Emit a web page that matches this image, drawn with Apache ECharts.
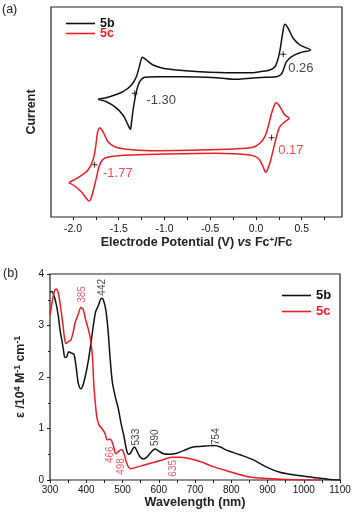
<!DOCTYPE html>
<html>
<head>
<meta charset="utf-8">
<script src="https://cdn.jsdelivr.net/npm/echarts@6/dist/echarts.min.js"></script>
<style>
  html, body { margin: 0; padding: 0; background: #fff; }
  #chart { width: 354px; height: 519px; }
</style>
</head>
<body>
<div id="chart"></div>
<script>
/* ---------------- Data: (a) cyclic voltammetry ---------------- */
// [potential (V vs Fc+/Fc), current (arb.)], traced round the loop
const cv5b = [
  [-1.726, 1.27], [-1.598, 1.53], [-1.453, 2.03], [-1.361, 2.70], [-1.307, 3.53],
  [-1.270, 4.70], [-1.241, 5.47], [-1.197, 5.20], [-1.125, 4.70], [-1.015, 4.37],
  [-0.869, 4.20], [-0.614, 4.03], [-0.249, 3.93], [-0.031, 3.93], [0.042, 4.03],
  [0.152, 4.20], [0.207, 4.53], [0.243, 5.37], [0.269, 6.53], [0.291, 7.87],
  [0.316, 8.77], [0.352, 8.37], [0.407, 7.37], [0.480, 6.70], [0.597, 6.20],
  [0.480, 5.93], [0.389, 5.53], [0.334, 5.03], [0.305, 4.37], [0.279, 3.80],
  [0.224, 3.53], [0.115, 3.47], [-0.031, 3.40], [-0.213, 3.27], [-0.432, 3.43],
  [-0.797, 3.53], [-1.088, 3.53], [-1.216, 3.47], [-1.270, 3.03], [-1.307, 2.03],
  [-1.343, 0.20], [-1.361, -1.13], [-1.372, -1.73], [-1.398, -1.30], [-1.453, -0.30],
  [-1.544, 0.53], [-1.635, 1.03], [-1.726, 1.27]
];
const cv5c = [
  [-2.047, -7.07], [-1.927, -6.47], [-1.836, -5.80], [-1.781, -4.80], [-1.752, -3.47],
  [-1.733, -2.13], [-1.708, -1.57], [-1.672, -1.97], [-1.617, -2.97], [-1.544, -3.47],
  [-1.416, -3.73], [-1.161, -3.87], [-0.614, -3.80], [-0.249, -3.70], [-0.031, -3.53],
  [0.042, -3.13], [0.097, -2.47], [0.133, -1.47], [0.170, -0.13], [0.206, 0.80],
  [0.224, 0.93], [0.261, 0.53], [0.316, -0.30], [0.363, -0.63], [0.316, -0.97],
  [0.261, -1.47], [0.224, -2.47], [0.188, -3.80], [0.151, -5.13], [0.115, -5.97],
  [0.104, -6.03], [0.078, -5.47], [0.024, -4.63], [-0.068, -4.30], [-0.432, -4.13],
  [-0.979, -4.20], [-1.343, -4.30], [-1.598, -4.47], [-1.672, -4.73], [-1.716, -5.47],
  [-1.745, -6.63], [-1.781, -7.97], [-1.810, -8.80], [-1.825, -8.90], [-1.854, -8.63],
  [-1.909, -7.97], [-1.982, -7.40], [-2.047, -7.07]
];
// half-wave potential markers and their labels
const half5b = [[-1.325, 1.87], [0.298, 5.77]];
const half5c = [[-1.763, -5.27], [0.171, -2.57]];
const halfText5b = ["-1.30", "0.26"];
const halfText5c = ["-1.77", "0.17"];
const halfLabelAt5b = [[-1.197, 1.2], [0.352, 4.33]];
const halfLabelAt5c = [[-1.672, -6.13], [0.243, -3.83]];
const cvTicks = [-2, -1.75, -1.5, -1.25, -1, -0.75, -0.5, -0.25, 0, 0.25, 0.5, 0.75];
const cvTickLabels = [-2, -1.5, -1, -0.5, 0, 0.5];

/* ---------------- Data: (b) absorption spectra ---------------- */
// [wavelength (nm), epsilon (10^4 M-1 cm-1)]
const abs5b = [
  [300, 3.65], [305, 3.66], [310, 3.60], [317, 3.42], [323, 3.18], [328, 2.90],
  [333, 2.70], [337, 2.53], [341, 2.38], [346, 2.39], [352, 2.49], [358, 2.47],
  [366, 2.44], [372, 2.20], [378, 1.88], [385, 1.77], [390, 1.82], [397, 2.00],
  [406, 2.33], [413, 2.66], [420, 3.02], [426, 3.27], [433, 3.38], [442, 3.53],
  [447, 3.50], [454, 3.30], [460, 2.92], [466, 2.35], [472, 1.90], [480, 1.62],
  [488, 1.40], [496, 1.10], [504, 0.85], [510, 0.62], [516, 0.50], [522, 0.52],
  [528, 0.60], [533, 0.64], [540, 0.56], [548, 0.45], [557, 0.41], [568, 0.45],
  [580, 0.55], [590, 0.60], [600, 0.56], [613, 0.51], [630, 0.50], [650, 0.52],
  [668, 0.57], [695, 0.64], [730, 0.66], [754, 0.67], [770, 0.64], [787, 0.58],
  [824, 0.49], [861, 0.39], [898, 0.25], [934, 0.15], [980, 0.09], [1026, 0.05],
  [1072, 0.01], [1100, 0.0]
];
const abs5c = [
  [300, 3.20], [302, 3.28], [307, 3.50], [312, 3.66], [317, 3.71], [323, 3.63],
  [329, 3.37], [335, 3.05], [340, 2.76], [344, 2.65], [351, 2.69], [357, 2.71],
  [363, 2.84], [369, 3.05], [378, 3.22], [385, 3.35], [392, 3.30], [398, 3.12],
  [406, 2.92], [412, 2.72], [417, 2.40], [421, 1.85], [425, 1.50], [429, 1.23],
  [435, 1.07], [443, 1.00], [452, 0.90], [458, 0.78], [466, 0.79], [473, 0.71],
  [482, 0.51], [490, 0.56], [498, 0.59], [505, 0.49], [513, 0.30], [522, 0.22],
  [535, 0.24], [560, 0.29], [585, 0.34], [610, 0.39], [635, 0.44], [660, 0.44],
  [695, 0.40], [718, 0.35], [750, 0.26], [787, 0.18], [843, 0.07], [898, 0.03],
  [953, 0.01], [1050, 0.0]
];
const peaks5b = ["442", "533", "590", "754"];
const peakLabelAt5b = [[445, 3.58], [538, 0.67], [591, 0.66], [759, 0.68]];
const peaks5c = ["385", "466", "498", "635"];
const peakLabelAt5c = [[388, 3.44], [465, 0.33], [496, 0.10], [639, 0.065]];

/* ---------------- Styles ---------------- */
const BLACK = "#111";
const RED = "#ec1c24";
const RED_TEXT = "#e8344c";
const FONT = "'Liberation Sans', Arial, sans-serif";
const PLUS = "path://M0,5L10,5M5,0L5,10";

const chart = echarts.init(document.getElementById("chart"));

const labelSeries = (pos, texts, color, xi, opts) => ({
  type: "scatter",
  xAxisIndex: xi,
  yAxisIndex: xi,
  symbolSize: 1,
  itemStyle: { color: "transparent" },
  silent: true,
  data: pos.map((p, i) => ({ value: p, name: texts[i] })),
  label: Object.assign({
    show: true,
    position: "inside",
    formatter: "{b}",
    color: color,
    fontFamily: FONT,
    align: "left",
    verticalAlign: "middle"
  }, opts)
});

const plusSeries = data => ({
  type: "scatter",
  xAxisIndex: 0,
  yAxisIndex: 0,
  symbol: PLUS,
  symbolSize: 6,
  silent: true,
  itemStyle: { color: "transparent", borderColor: "#000", borderWidth: 1 },
  data: data
});

const option = {
  animation: false,
  backgroundColor: "#fff",
  textStyle: { fontFamily: FONT },
  graphic: [
    { type: "text", left: 2, top: 3, style: { text: "(a)", font: "12.5px " + FONT, fill: "#222" } },
    { type: "text", left: 3, top: 267, style: { text: "(b)", font: "12.5px " + FONT, fill: "#222" } }
  ],
  legend: [
    {
      data: [{ name: "5b", textStyle: { color: BLACK } }, { name: "5c", textStyle: { color: RED } }],
      orient: "vertical", left: 61, top: 12, itemWidth: 29, itemHeight: 1.6, itemGap: -3,
      icon: "rect",
      textStyle: { fontSize: 12.5, fontWeight: "bold", fontFamily: FONT }
    },
    {
      data: [{ name: "5b", textStyle: { color: BLACK } }, { name: "5c", textStyle: { color: RED } }],
      orient: "vertical", left: 277, top: 284, itemWidth: 29, itemHeight: 1.6, itemGap: 3,
      icon: "rect",
      textStyle: { fontSize: 13, fontWeight: "bold", fontFamily: FONT }
    }
  ],
  grid: [
    { left: 51, right: 12, top: 7, bottom: 302, show: true, borderColor: "#222", borderWidth: 1.2, backgroundColor: "transparent" },
    { left: 50, right: 14, top: 274, bottom: 39, show: true, borderColor: "#222", borderWidth: 1.2, backgroundColor: "transparent" }
  ],
  xAxis: [
    {
      gridIndex: 0,
      type: "value",
      min: -2.24,
      max: 0.94,
      axisLine: { show: false, onZero: false },
      splitLine: { show: false },
      axisTick: { show: true, length: 3, customValues: cvTicks, lineStyle: { color: "#222" } },
      axisLabel: {
        customValues: cvTickLabels, margin: 7, fontSize: 10.5, color: "#111",
        formatter: v => v.toFixed(1)
      },
      name: "Electrode Potential (V) {i|vs} Fc{sup|+}/Fc",
      nameLocation: "middle",
      nameGap: 19,
      nameTextStyle: {
        fontSize: 12.5, fontWeight: "bold", color: "#222", lineHeight: 14,
        rich: {
          i: { fontSize: 12.5, fontWeight: "bold", fontStyle: "italic", color: "#222", fontFamily: FONT },
          sup: { fontSize: 8, fontWeight: "bold", color: "#222", verticalAlign: "top", fontFamily: FONT }
        }
      }
    },
    {
      gridIndex: 1,
      type: "value",
      min: 300,
      max: 1100,
      interval: 100,
      axisLine: { show: false, onZero: false },
      splitLine: { show: false },
      axisTick: { show: true, length: 3, lineStyle: { color: "#222" } },
      minorTick: { show: true, splitNumber: 2, length: 3, lineStyle: { color: "#222" } },
      axisLabel: { margin: 5, fontSize: 10, color: "#111", formatter: v => String(v) },
      name: "Wavelength (nm)",
      nameLocation: "middle",
      nameGap: 15,
      nameTextStyle: { fontSize: 12.6, fontWeight: "bold", color: "#222" }
    }
  ],
  yAxis: [
    {
      gridIndex: 0,
      type: "value",
      min: -10.5,
      max: 10.5,
      axisLine: { show: false, onZero: false },
      axisTick: { show: false },
      axisLabel: { show: false },
      splitLine: { show: false },
      name: "Current",
      nameLocation: "middle",
      nameGap: 13,
      nameTextStyle: { fontSize: 12.5, fontWeight: "bold", color: "#222" }
    },
    {
      gridIndex: 1,
      type: "value",
      min: 0,
      max: 4,
      interval: 1,
      axisLine: { show: false, onZero: false },
      splitLine: { show: false },
      axisTick: { show: true, length: 3, lineStyle: { color: "#222" } },
      minorTick: { show: true, splitNumber: 2, length: 2, lineStyle: { color: "#222" } },
      axisLabel: { margin: 6, fontSize: 10, color: "#111" },
      name: "ε /10{sup|4} M{sup|-1} cm{sup|-1}",
      nameLocation: "middle",
      nameGap: 22,
      nameTextStyle: {
        fontSize: 12.5, fontWeight: "bold", color: "#222", lineHeight: 14,
        rich: {
          sup: { fontSize: 8.5, fontWeight: "bold", color: "#222", verticalAlign: "top", fontFamily: FONT }
        }
      }
    }
  ],
  series: [
    {
      name: "5b", type: "line", xAxisIndex: 0, yAxisIndex: 0, data: cv5b,
      showSymbol: false, smooth: 0.3, color: BLACK, lineStyle: { width: 1.5 }
    },
    {
      name: "5c", type: "line", xAxisIndex: 0, yAxisIndex: 0, data: cv5c,
      showSymbol: false, smooth: 0.3, color: RED, lineStyle: { width: 1.5 }
    },
    plusSeries(half5b),
    plusSeries(half5c),
    labelSeries(halfLabelAt5b, halfText5b, BLACK, 0, { fontSize: 13 }),
    labelSeries(halfLabelAt5c, halfText5c, RED, 0, { fontSize: 13 }),
    {
      name: "5b", type: "line", xAxisIndex: 1, yAxisIndex: 1, data: abs5b,
      showSymbol: false, smooth: 0.3, color: BLACK, lineStyle: { width: 1.5 }
    },
    {
      name: "5c", type: "line", xAxisIndex: 1, yAxisIndex: 1, data: abs5c,
      showSymbol: false, smooth: 0.3, color: RED, lineStyle: { width: 1.5 }
    },
    labelSeries(peakLabelAt5b, peaks5b, BLACK, 1, { fontSize: 10, rotate: 90 }),
    labelSeries(peakLabelAt5c, peaks5c, RED_TEXT, 1, { fontSize: 10, rotate: 90 })
  ]
};

chart.setOption(option);
</script>
</body>
</html>
